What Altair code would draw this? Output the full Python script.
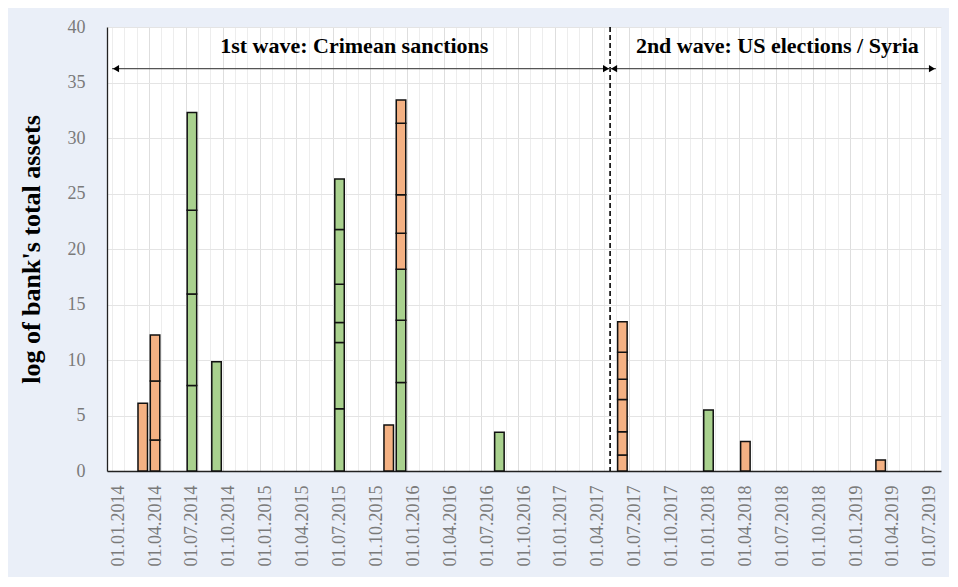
import altair as alt
import pandas as pd

# ---- data ----
tick_labels = ["01.01.2014", "01.04.2014", "01.07.2014", "01.10.2014",
               "01.01.2015", "01.04.2015", "01.07.2015", "01.10.2015",
               "01.01.2016", "01.04.2016", "01.07.2016", "01.10.2016",
               "01.01.2017", "01.04.2017", "01.07.2017", "01.10.2017",
               "01.01.2018", "01.04.2018", "01.07.2018", "01.10.2018",
               "01.01.2019", "01.04.2019", "01.07.2019"]

bar_months = ["03.2014", "04.2014", "07.2014", "09.2014", "07.2015", "11.2015",
              "12.2015", "08.2016", "06.2017", "01.2018", "04.2018", "03.2019"]

# cumulative tops of the stacked segments (one segment = one bank)
bar_tops = [
    [6.1],
    [2.8, 8.1, 12.25],
    [7.7, 15.95, 23.5, 32.3],
    [9.85],
    [5.6, 11.57, 13.37, 16.82, 21.76, 26.3],
    [4.15],
    [7.97, 13.58, 18.17, 21.43, 24.88, 31.32, 33.43],
    [3.5],
    [1.44, 3.54, 6.45, 8.27, 10.7, 13.45],
    [5.5],
    [2.65],
    [1.0],
]
bar_groups = [
    ["orange"],
    ["orange"] * 3,
    ["green"] * 4,
    ["green"],
    ["green"] * 6,
    ["orange"],
    ["green"] * 3 + ["orange"] * 4,
    ["green"],
    ["orange"] * 6,
    ["green"],
    ["orange"],
    ["orange"],
]

wave_split = "05.2017"
wave_labels = ["1st wave: Crimean sanctions", "2nd wave: US elections / Syria"]
wave_label_x = [19.2, 53.6]   # month index of label centres
wave_label_y = 38.3
arrow_y = 36.25


def month_index(s):
    mm, yy = s.split(".")
    return (int(yy) - 2014) * 12 + int(mm) - 1


X_MIN, X_MAX = -0.5, 66.5

rows = []
for mon, tops, grps in zip(bar_months, bar_tops, bar_groups):
    prev = 0.0
    for t, g in zip(tops, grps):
        rows.append({"m": month_index(mon), "y0": prev, "y1": t, "grp": g})
        prev = t
bars_df = pd.DataFrame(rows)

split_m = month_index(wave_split)
split_df = pd.DataFrame({"m": [split_m]})
arrows_df = pd.DataFrame({"x": [X_MIN, split_m], "x2": [split_m, X_MAX], "y": [arrow_y, arrow_y]})
heads_left_df = pd.DataFrame({"x": [X_MIN, split_m], "y": [arrow_y, arrow_y]})
heads_right_df = pd.DataFrame({"x": [split_m, X_MAX], "y": [arrow_y, arrow_y]})
text_df = pd.DataFrame({"x": wave_label_x, "y": [wave_label_y] * 2, "t": wave_labels})

tick_vals = [3 * i for i in range(len(tick_labels))]
label_expr = "[" + ",".join("'" + l + "'" for l in tick_labels) + "][round(datum.value / 3)]"
month_grid = [X_MIN + i for i in range(int(X_MAX - X_MIN) + 1)]
quarter_grid = [v - 0.5 for v in tick_vals if v > 0]

FONT = "Liberation Serif"
xscale = alt.Scale(domain=[X_MIN, X_MAX], nice=False, zero=False)
yscale = alt.Scale(domain=[0, 40], nice=False)

yaxis = alt.Axis(values=list(range(0, 41, 5)), labelFont=FONT, labelFontSize=18,
                 labelColor="#7a7a7a", labelPadding=22, ticks=False, tickSize=0,
                 grid=True, gridColor="#e4e4e4", domain=True,
                 domainColor="#222222", domainWidth=1.3,
                 title="log of bank's total assets", titleFont=FONT,
                 titleFontSize=26, titleFontWeight="bold", titleColor="black",
                 titlePadding=23)

bars = alt.Chart(bars_df).mark_bar(size=9.5, stroke="#111111", strokeWidth=1.5).encode(
    x=alt.X("m:Q", scale=xscale,
            axis=alt.Axis(orient="bottom", values=tick_vals, labelExpr=label_expr,
                          labelAngle=-90, labelFont=FONT, labelFontSize=18,
                          labelColor="#7a7a7a", labelPadding=14, ticks=False, tickSize=0,
                          grid=False, domain=True, domainColor="#222222",
                          domainWidth=1.3, title=None, labelFlush=False,
                          labelOverlap=False)),
    y=alt.Y("y1:Q", scale=yscale, axis=yaxis),
    y2="y0:Q",
    color=alt.Color("grp:N", scale=alt.Scale(domain=["orange", "green"],
                                             range=["#f4b183", "#a9d18e"]), legend=None),
)

split_rule = alt.Chart(split_df).mark_rule(color="black", strokeWidth=1.6,
                                           strokeDash=[5, 3]).encode(
    x=alt.X("m:Q", scale=xscale,
            axis=alt.Axis(orient="top", values=month_grid, labels=False, ticks=False,
                          domain=False, grid=True, gridColor="#ededed", title=None)),
)

arrow_lines = alt.Chart(arrows_df).mark_rule(color="#555555", strokeWidth=1.3).encode(
    x=alt.X("x:Q", scale=xscale,
            axis=alt.Axis(orient="top", values=quarter_grid, labels=False, ticks=False,
                          domain=False, grid=True, gridColor="#dedede", title=None)),
    x2="x2:Q",
    y=alt.Y("y:Q", scale=yscale, axis=yaxis),
)

heads_left = alt.Chart(heads_left_df).mark_point(
    shape="triangle-left", filled=True, color="black", size=50, opacity=1, xOffset=4
).encode(
    x=alt.X("x:Q", scale=xscale, axis=None),
    y=alt.Y("y:Q", scale=yscale, axis=yaxis),
)
heads_right = alt.Chart(heads_right_df).mark_point(
    shape="triangle-right", filled=True, color="black", size=50, opacity=1, xOffset=-4
).encode(
    x=alt.X("x:Q", scale=xscale, axis=None),
    y=alt.Y("y:Q", scale=yscale, axis=yaxis),
)

labels = alt.Chart(text_df).mark_text(font=FONT, fontWeight="bold", fontSize=22,
                                      color="black", align="center",
                                      baseline="middle").encode(
    x=alt.X("x:Q", scale=xscale, axis=None),
    y=alt.Y("y:Q", scale=yscale, axis=yaxis),
    text="t:N",
)

chart = alt.layer(bars, split_rule, arrow_lines, heads_left, heads_right, labels).resolve_axis(
    x="independent"
).properties(
    width=834, height=444,
    padding={"left": 99, "top": 19, "right": 8, "bottom": 106},
    autosize=alt.AutoSizeParams(type="none"),
    background="#eaeff8",
).configure_view(fill="white", stroke=None)

chart.save("out.html", embed_options={"renderer": "svg", "actions": False})
